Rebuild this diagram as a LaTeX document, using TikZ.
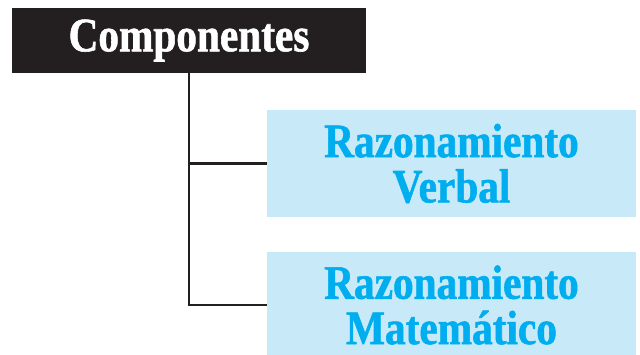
\documentclass[tikz,border=0pt]{standalone}
\usepackage{fontspec}
\setmainfont{Liberation Serif}
\newfontfamily\slabfont[FakeStretch=0.86, BoldFeatures={FakeBold=1.2}]{Liberation Serif}
\usepackage{tikz}

\definecolor{headblack}{HTML}{231F20}
\definecolor{compblue}{HTML}{00AEEF}
\definecolor{compfill}{HTML}{C7E9F8}

\tikzset{
  headbox/.style={fill=headblack, text=white, minimum width=265.5pt, minimum height=48.75pt,
    font=\slabfont\bfseries\fontsize{36}{34}\selectfont},
  compbox/.style={fill=compfill, text=compblue, minimum width=276.75pt, align=center,
    font=\slabfont\bfseries\fontsize{36}{34}\selectfont},
  branch/.style={draw=headblack, line width=1.8pt}
}

\begin{document}
\begin{tikzpicture}[x=0.75pt,y=-0.75pt]
\useasboundingbox (0,0) rectangle (640,354);
\path (189,40.5) node[headbox] (comp) {Componentes}
		(451.5,163.5) node[compbox, minimum height=80.25pt] (verbal) {Razonamiento\\Verbal}
		(451.5,305) node[compbox, minimum height=79.5pt] (mate) {Razonamiento\\Matemático}
		;
\draw[branch] (comp.south) |- (verbal.west);
\draw[branch] (comp.south) |- (mate.west);
\end{tikzpicture}
\end{document}
